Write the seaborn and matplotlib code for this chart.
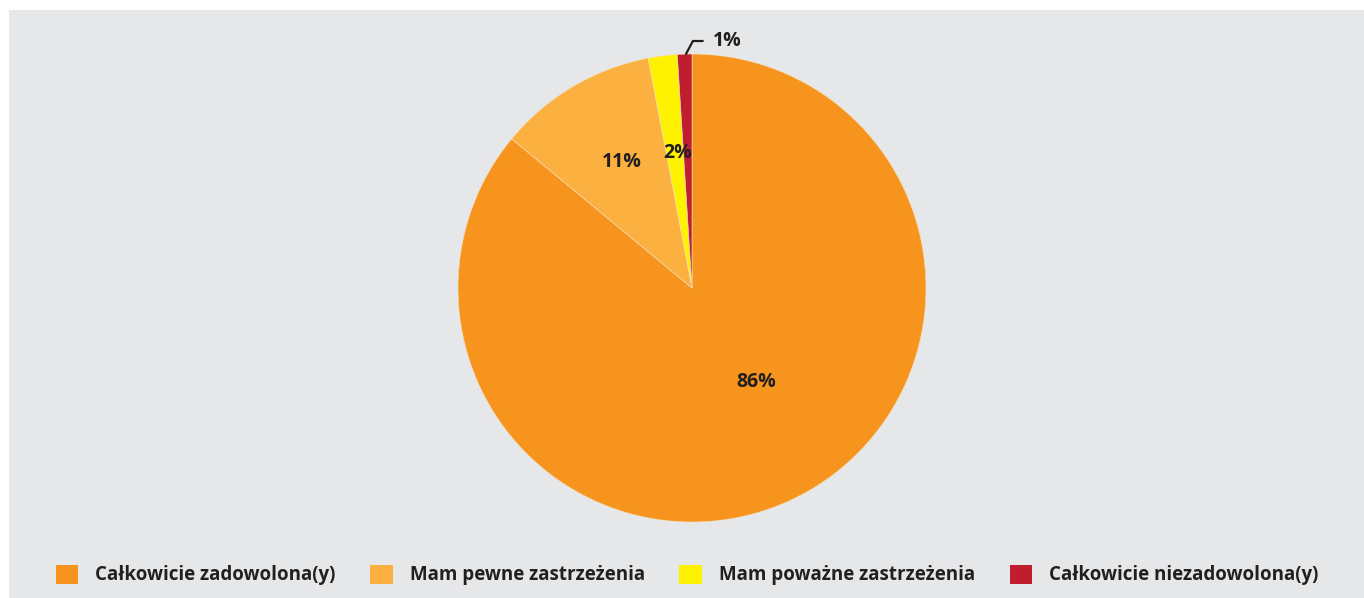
import matplotlib
matplotlib.use("Agg")
import matplotlib.pyplot as plt
import matplotlib.patches as patches
import seaborn as sns

# Dane wykresu
categories = ["Całkowicie zadowolona(y)", "Mam pewne zastrzeżenia",
              "Mam poważne zastrzeżenia", "Całkowicie niezadowolona(y)"]
values = [86, 11, 2, 1]
colors = ["#F7941D", "#FBB040", "#FFF200", "#BE1E2D"]

sns.set_theme(style="white")
plt.rcParams['font.family'] = ['Open Sans', 'DejaVu Sans']
text_color = "#231F20"
bg = "#E6E7E8"
fs = 14

W, H = 1364, 598
fig = plt.figure(figsize=(W / 100, H / 100), dpi=100)
fig.patch.set_facecolor("white")
ax = fig.add_axes([0, 0, 1, 1])

# szare tlo
ax.add_patch(patches.Rectangle((9, 0), W - 9, H - 10, facecolor=bg, edgecolor="none", zorder=0))

# wykres kolowy (zgodnie z ruchem wskazowek zegara od godz. 12)
cx, cy, R = 692, H - 288, 234
wedges, texts, autotexts = ax.pie(
    values, colors=sns.color_palette(colors), startangle=90, counterclock=False,
    center=(cx, cy), radius=R, frame=True,
    autopct=lambda p: f"{p:.0f}%", pctdistance=0.55,
    wedgeprops=dict(linewidth=0.4, edgecolor="#F0E2C8"),
    textprops=dict(fontsize=fs, fontweight="bold", color=text_color),
)
ax.set_xlim(0, W)
ax.set_ylim(0, H)
ax.set_aspect("equal")
ax.axis("off")

# korekta polozenia etykiet
label_offsets = [(64, -94), (-70, 126), (-14, 135)]
for t, (dx, dy) in zip(autotexts[:3], label_offsets):
    t.set_position((cx + dx, cy + dy))
autotexts[3].set_visible(False)

ax.annotate(f"{values[3]}%", xy=(686, H - 54), xytext=(713, H - 41),
            fontsize=fs, fontweight="bold", color=text_color,
            ha="left", va="center",
            arrowprops=dict(arrowstyle="-", color=text_color, lw=1.6,
                            connectionstyle="angle,angleA=0,angleB=62",
                            shrinkA=5, shrinkB=0))

# legenda
leg = ax.legend(wedges, categories, loc="center", ncol=4,
                bbox_to_anchor=(687 / W, 23 / H), frameon=False,
                fontsize=13.5, handlelength=1.2, handleheight=1.2,
                handletextpad=0.9, columnspacing=1.85, borderpad=0)
for txt in leg.get_texts():
    txt.set_fontweight("bold")
    txt.set_color(text_color)
for h in leg.legend_handles:
    h.set_linewidth(0)

fig.savefig("out.png", dpi=100, facecolor="white")
